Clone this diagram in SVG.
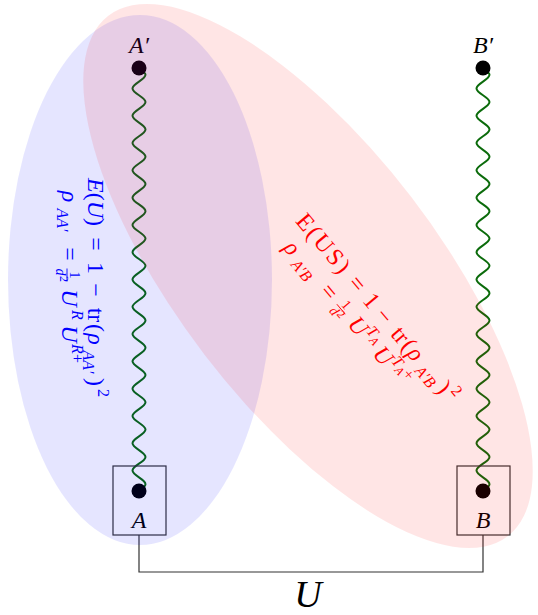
<svg xmlns="http://www.w3.org/2000/svg" xmlns:xlink="http://www.w3.org/1999/xlink" width="538" height="615" viewBox="0 0 538 615">
<style>
text{font-family:"Liberation Serif",serif;font-size:24px}
.i{font-style:italic}
.m{text-anchor:middle}
.s{font-size:16px}
.xs{font-size:12px}
.f{font-size:14px}
.blue text{fill:#0000ff}
.red text{fill:#ff0000}
.wave{fill:none;stroke:#0b6b0b;stroke-width:2}
.box{fill:none;stroke:#333;stroke-width:1.2}
</style>
<defs>
<path id="wave" d="M0,0 c8.67,5.78 8.67,7.86 0,13.645 s-8.67,7.86 0,13.645 s8.67,7.86 0,13.645 s-8.67,7.86 0,13.645 s8.67,7.86 0,13.645 s-8.67,7.86 0,13.645 s8.67,7.86 0,13.645 s-8.67,7.86 0,13.645 s8.67,7.86 0,13.645 s-8.67,7.86 0,13.645 s8.67,7.86 0,13.645 s-8.67,7.86 0,13.645 s8.67,7.86 0,13.645 s-8.67,7.86 0,13.645 s8.67,7.86 0,13.645 s-8.67,7.86 0,13.645 s8.67,7.86 0,13.645 s-8.67,7.86 0,13.645 s8.67,7.86 0,13.645 s-8.67,7.86 0,13.645 s8.67,7.86 0,13.645 s-8.67,7.86 0,13.645 s8.67,7.86 0,13.645 s-8.67,7.86 0,13.645 s8.67,7.86 0,13.645 s-8.67,7.86 0,13.645 s8.67,7.86 0,13.645 s-8.67,7.86 0,13.645 s8.67,7.86 0,13.645 s-8.67,7.86 0,13.645 s8.67,7.86 0,13.645"/>
</defs>
<rect width="538" height="615" fill="#fff"/>
<g id="connectors">
<use xlink:href="#wave" href="#wave" x="139" y="68" class="wave"/>
<use xlink:href="#wave" href="#wave" x="483" y="68" class="wave"/>
<polyline points="139,535 139,572 483,572 483,535" fill="none" stroke="#333" stroke-width="1.2"/>
<text class="i m" x="308" y="607" style="font-size:38px">U</text>
</g>
<g id="nodeAprime">
<circle cx="139" cy="68" r="7.5" fill="#000"/>
<text class="i m" x="139" y="53">A′</text>
</g>
<g id="nodeBprime">
<circle cx="483" cy="68" r="7.5" fill="#000"/>
<text class="i m" x="483" y="53">B′</text>
</g>
<g id="nodeA">
<rect class="box" x="113" y="466" width="53" height="69"/>
<circle cx="139" cy="491" r="7.5" fill="#000"/>
<text class="i m" x="139" y="528">A</text>
</g>
<g id="nodeB">
<rect class="box" x="457" y="466" width="53" height="69"/>
<circle cx="483" cy="491" r="7.5" fill="#000"/>
<text class="i m" x="483" y="528">B</text>
</g>
<g id="regionAA">
<ellipse cx="140" cy="280" rx="132" ry="265" fill="#0000ff" fill-opacity="0.1"/>
<g class="blue" transform="translate(88,178) rotate(90)">
<text x="0" y="0"><tspan class="i">E</tspan>(<tspan class="i">U</tspan>)</text>
<text class="m" x="66" y="0">=</text>
<text class="m" x="90" y="0">1</text>
<text class="m" x="112" y="0">−</text>
<text class="m" x="137" y="0">tr</text>
<text class="m" x="150" y="0">(</text>
<text class="m i" x="161" y="0">ρ</text>
<text class="m i s" x="184" y="5">AA′</text>
<text class="m" x="204" y="0">)</text>
<text class="m s" x="215" y="-10">2</text>
<text class="m i" x="18.5" y="26.5">ρ</text>
<text class="m i s" x="42" y="31.5">AA′</text>
<text class="m" x="76" y="26.5">=</text>
<text class="m f" x="97" y="18.5">1</text>
<line x1="90.5" y1="21" x2="103.5" y2="21" stroke="#0000ff" stroke-width="0.9"/>
<text class="i f" x="90.5" y="32">d</text><text class="xs" x="98" y="28">2</text>
<text class="m i" x="120" y="26.5">U</text>
<text class="m i s" x="137" y="16.5">R</text>
<text class="m i" x="156" y="26.5">U</text>
<text class="i s" x="166" y="16.5">R</text><text class="s" x="176" y="16.5">+</text>
</g>
</g>
<g id="regionAB">
<ellipse cx="308" cy="276" rx="328" ry="130" transform="rotate(52.5 308 276)" fill="#ff0000" fill-opacity="0.1"/>
<g class="red" transform="translate(294.8,221.4) rotate(50)">
<text x="0" y="0" textLength="70" lengthAdjust="spacing">E(US)</text>
<text class="m" x="88" y="0">=</text>
<text class="m" x="110" y="0">1</text>
<text class="m" x="130" y="0">−</text>
<text class="m" x="155" y="0">tr</text>
<text class="m" x="168" y="0">(</text>
<text class="m i" x="179" y="0">ρ</text>
<text class="m i s" x="203" y="5">A′B</text>
<text class="m" x="223" y="0">)</text>
<text class="m s" x="234" y="-10">2</text>
<text class="m i" x="18.5" y="26.5">ρ</text>
<text class="m i s" x="42" y="31.5">A′B</text>
<text class="m" x="76" y="26.5">=</text>
<text class="m f" x="97" y="18.5">1</text>
<line x1="90.5" y1="21" x2="103.5" y2="21" stroke="#ff0000" stroke-width="0.9"/>
<text class="i f" x="90.5" y="32">d</text><text class="xs" x="98" y="28">2</text>
<text class="m i" x="121" y="26.5">U</text>
<text class="i s" x="130" y="16.5">T</text><text class="i xs" x="139" y="20">A</text>
<text class="m i" x="160" y="26.5">U</text>
<text class="i s" x="169" y="16.5">T</text><text class="i xs" x="178" y="20">A</text><text class="s" x="186" y="16.5">+</text>
</g>
</g>
</svg>
